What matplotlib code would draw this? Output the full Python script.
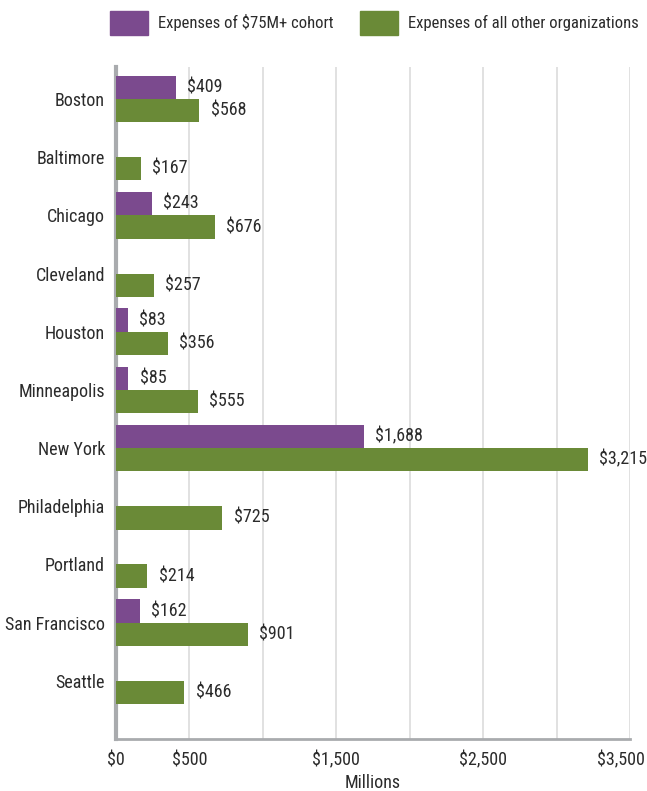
import matplotlib
matplotlib.use("Agg")
import matplotlib.pyplot as plt
import matplotlib.transforms as mtransforms
import numpy as np
from matplotlib.patches import Patch

plt.rcParams['font.family'] = ['Roboto Condensed', 'DejaVu Sans']

cities = ['Boston', 'Baltimore', 'Chicago', 'Cleveland', 'Houston', 'Minneapolis',
          'New York', 'Philadelphia', 'Portland', 'San Francisco', 'Seattle']
cohort = [409, None, 243, None, 83, 85, 1688, None, None, 162, None]
others = [568, 167, 676, 257, 356, 555, 3215, 725, 214, 901, 466]
xticks = [0, 500, 1500, 2500, 3500]

purple = '#7b4a8e'
green = '#6a8a37'
text_col = '#2b2b2b'
fs = 13

fig = plt.figure(figsize=(6.47, 7.91), dpi=100)
ax = fig.add_axes([116 / 647, 1 - 739 / 791, (630 - 116) / 647, (739 - 67) / 791])

y = np.arange(len(cities))
h = 0.4
for i, v in enumerate(cohort):
    if v is None:
        continue
    ax.barh(y[i] - h / 2, v, height=h, color=purple, zorder=3)
    ax.annotate(f"${v:,}", (v, y[i] - h / 2), xytext=(8, 0), textcoords='offset points',
                ha='left', va='center', fontsize=fs, color=text_col)
for i, v in enumerate(others):
    ax.barh(y[i] + h / 2, v, height=h, color=green, zorder=3)
    ax.annotate(f"${v:,}", (v, y[i] + h / 2), xytext=(8, 0), textcoords='offset points',
                ha='left', va='center', fontsize=fs, color=text_col)

ax.set_xlim(0, 3500)
ax.set_ylim(len(cities) - 1 + 1.0, -0.55)
ax.set_yticks(y)
ax.set_yticklabels(cities, fontsize=fs, color=text_col)
ax.set_xticks(np.arange(0, 3501, 500), minor=True)
ax.set_xticks(xticks)
ax.set_xticklabels([f"${t:,}" for t in xticks], fontsize=fs, color=text_col)
ax.tick_params(axis='both', which='both', length=0)
ax.tick_params(axis='y', pad=8)
ax.tick_params(axis='x', pad=9)
ax.grid(axis='x', which='both', color='#dedede', linewidth=1.3, zorder=0)
ax.set_axisbelow(True)

# pull the last tick label in a bit so it stays inside the figure
last = ax.get_xticklabels()[-1]
last.set_transform(last.get_transform() + mtransforms.ScaledTranslation(-9 / 100, 0, fig.dpi_scale_trans))

for s in ['top', 'right']:
    ax.spines[s].set_visible(False)
ax.spines['left'].set_color('#a9abae')
ax.spines['left'].set_linewidth(3)
ax.spines['bottom'].set_color('#a9abae')
ax.spines['bottom'].set_linewidth(2)

ax.set_xlabel('Millions', fontsize=fs, color=text_col, labelpad=3)

handles = [Patch(color=purple, label='Expenses of $75M+ cohort'),
           Patch(color=green, label='Expenses of all other organizations')]
fig.legend(handles=handles, loc='center', bbox_to_anchor=(374 / 647, 1 - 23 / 791), ncol=2,
           frameon=False, fontsize=12, handlelength=2.28, handleheight=1.85,
           handletextpad=0.6, columnspacing=1.6, labelcolor=text_col)

fig.savefig('out.png', dpi=100)
